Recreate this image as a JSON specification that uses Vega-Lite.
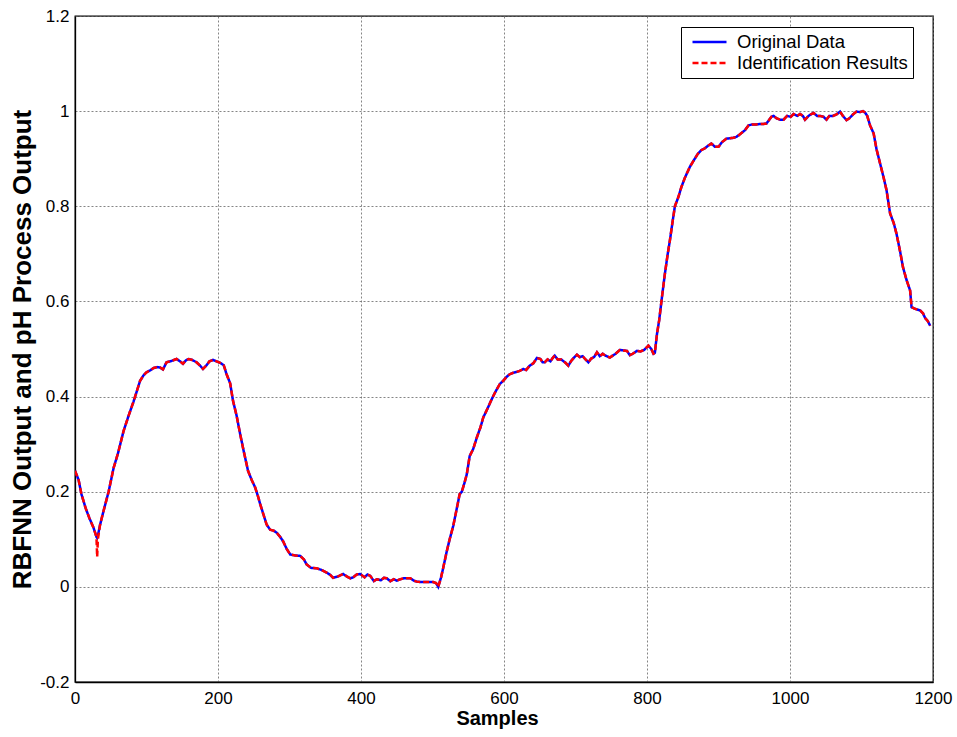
{
  "$schema": "https://vega.github.io/schema/vega-lite/v6.json",
  "width": 858,
  "height": 666,
  "autosize": {"type": "none"},
  "padding": {"left": 75, "top": 16, "right": 24, "bottom": 55},
  "background": "white",
  "config": {
    "font": "Liberation Sans",
    "view": {"stroke": "black", "strokeWidth": 1.3},
    "axis": {
      "labelFont": "Liberation Sans",
      "labelFontSize": 17,
      "labelColor": "black",
      "labelFlush": false,
      "titleFont": "Liberation Sans",
      "titleFontSize": 20,
      "titleFontWeight": "bold",
      "titleColor": "black",
      "domainColor": "black",
      "domainWidth": 1.3,
      "ticks": false,
      "grid": true,
      "gridColor": "#666666",
      "gridDash": [2, 2],
      "gridWidth": 0.8
    },
    "legend": {
      "labelFont": "Liberation Sans",
      "labelFontSize": 18.5,
      "labelColor": "black",
      "labelLimit": 400
    }
  },
  "data": {
    "values": [
      {"x":0,"o":0.244,"i":0.244},{"x":5,"o":0.225,"i":0.225},{"x":9,"o":0.195,"i":0.195},{"x":15,"o":0.165,"i":0.165},{"x":20,"o":0.145,"i":0.145},{"x":26,"o":0.124,"i":0.124},{"x":30,"o":0.105,"i":0.105},{"x":31,"o":0.103,"i":0.063},{"x":32,"o":0.108,"i":0.1},{"x":35,"o":0.13,"i":0.13},{"x":40,"o":0.16,"i":0.16},{"x":47,"o":0.2,"i":0.2},{"x":54,"o":0.25,"i":0.25},{"x":60,"o":0.28,"i":0.28},{"x":68,"o":0.328,"i":0.328},{"x":75,"o":0.36,"i":0.36},{"x":82,"o":0.39,"i":0.39},{"x":91,"o":0.433,"i":0.433},{"x":96,"o":0.445,"i":0.445},{"x":100,"o":0.451,"i":0.451},{"x":105,"o":0.455,"i":0.455},{"x":110,"o":0.46,"i":0.46},{"x":115,"o":0.462,"i":0.462},{"x":119,"o":0.461,"i":0.461},{"x":123,"o":0.457,"i":0.457},{"x":128,"o":0.472,"i":0.472},{"x":135,"o":0.475,"i":0.475},{"x":142,"o":0.479,"i":0.479},{"x":147,"o":0.474,"i":0.474},{"x":151,"o":0.469,"i":0.469},{"x":155,"o":0.476,"i":0.476},{"x":159,"o":0.479,"i":0.479},{"x":164,"o":0.477,"i":0.477},{"x":170,"o":0.472,"i":0.472},{"x":175,"o":0.465,"i":0.465},{"x":179,"o":0.458,"i":0.458},{"x":184,"o":0.466,"i":0.466},{"x":188,"o":0.474,"i":0.474},{"x":193,"o":0.477,"i":0.477},{"x":198,"o":0.474,"i":0.474},{"x":203,"o":0.471,"i":0.471},{"x":208,"o":0.466,"i":0.466},{"x":212,"o":0.447,"i":0.447},{"x":217,"o":0.428,"i":0.428},{"x":221,"o":0.391,"i":0.391},{"x":226,"o":0.36,"i":0.36},{"x":231,"o":0.321,"i":0.321},{"x":236,"o":0.285,"i":0.285},{"x":242,"o":0.244,"i":0.244},{"x":247,"o":0.225,"i":0.225},{"x":252,"o":0.209,"i":0.209},{"x":256,"o":0.19,"i":0.19},{"x":259,"o":0.174,"i":0.174},{"x":264,"o":0.15,"i":0.15},{"x":268,"o":0.131,"i":0.131},{"x":273,"o":0.12,"i":0.12},{"x":278,"o":0.118,"i":0.118},{"x":282,"o":0.114,"i":0.114},{"x":287,"o":0.105,"i":0.105},{"x":291,"o":0.096,"i":0.096},{"x":296,"o":0.08,"i":0.08},{"x":301,"o":0.068,"i":0.068},{"x":308,"o":0.066,"i":0.066},{"x":315,"o":0.065,"i":0.065},{"x":320,"o":0.058,"i":0.058},{"x":324,"o":0.047,"i":0.047},{"x":330,"o":0.04,"i":0.04},{"x":338,"o":0.039,"i":0.039},{"x":344,"o":0.036,"i":0.036},{"x":352,"o":0.03,"i":0.03},{"x":357,"o":0.025,"i":0.025},{"x":361,"o":0.019,"i":0.019},{"x":368,"o":0.022,"i":0.022},{"x":375,"o":0.027,"i":0.027},{"x":380,"o":0.022,"i":0.022},{"x":385,"o":0.018,"i":0.018},{"x":389,"o":0.02,"i":0.02},{"x":394,"o":0.026,"i":0.026},{"x":399,"o":0.027,"i":0.027},{"x":405,"o":0.02,"i":0.02},{"x":409,"o":0.026,"i":0.026},{"x":413,"o":0.023,"i":0.023},{"x":418,"o":0.012,"i":0.012},{"x":422,"o":0.016,"i":0.016},{"x":428,"o":0.014,"i":0.014},{"x":432,"o":0.019,"i":0.019},{"x":436,"o":0.018,"i":0.018},{"x":441,"o":0.012,"i":0.012},{"x":446,"o":0.016,"i":0.016},{"x":450,"o":0.013,"i":0.013},{"x":455,"o":0.016,"i":0.016},{"x":460,"o":0.018,"i":0.018},{"x":465,"o":0.018,"i":0.018},{"x":469,"o":0.018,"i":0.018},{"x":474,"o":0.013,"i":0.013},{"x":478,"o":0.011,"i":0.011},{"x":485,"o":0.01,"i":0.01},{"x":493,"o":0.01,"i":0.01},{"x":501,"o":0.01,"i":0.01},{"x":505,"o":0.008,"i":0.008},{"x":508,"o":0.0,"i":0.0},{"x":512,"o":0.02,"i":0.02},{"x":515,"o":0.04,"i":0.04},{"x":520,"o":0.075,"i":0.075},{"x":524,"o":0.1,"i":0.1},{"x":529,"o":0.128,"i":0.128},{"x":534,"o":0.165,"i":0.165},{"x":538,"o":0.195,"i":0.195},{"x":541,"o":0.2,"i":0.2},{"x":545,"o":0.22,"i":0.22},{"x":548,"o":0.237,"i":0.237},{"x":552,"o":0.275,"i":0.275},{"x":557,"o":0.29,"i":0.29},{"x":562,"o":0.314,"i":0.314},{"x":567,"o":0.335,"i":0.335},{"x":571,"o":0.356,"i":0.356},{"x":577,"o":0.375,"i":0.375},{"x":583,"o":0.395,"i":0.395},{"x":588,"o":0.41,"i":0.41},{"x":594,"o":0.426,"i":0.426},{"x":600,"o":0.435,"i":0.435},{"x":604,"o":0.442,"i":0.442},{"x":608,"o":0.447,"i":0.447},{"x":613,"o":0.45,"i":0.45},{"x":618,"o":0.452,"i":0.452},{"x":622,"o":0.454,"i":0.454},{"x":627,"o":0.458,"i":0.458},{"x":631,"o":0.456,"i":0.456},{"x":636,"o":0.465,"i":0.465},{"x":641,"o":0.47,"i":0.47},{"x":646,"o":0.481,"i":0.481},{"x":651,"o":0.479,"i":0.479},{"x":654,"o":0.472,"i":0.472},{"x":657,"o":0.472,"i":0.472},{"x":661,"o":0.478,"i":0.478},{"x":665,"o":0.474,"i":0.474},{"x":668,"o":0.481,"i":0.481},{"x":671,"o":0.486,"i":0.486},{"x":675,"o":0.478,"i":0.478},{"x":680,"o":0.478,"i":0.478},{"x":686,"o":0.471,"i":0.471},{"x":690,"o":0.465,"i":0.465},{"x":694,"o":0.475,"i":0.475},{"x":698,"o":0.482,"i":0.482},{"x":702,"o":0.488,"i":0.488},{"x":706,"o":0.483,"i":0.483},{"x":710,"o":0.485,"i":0.485},{"x":714,"o":0.478,"i":0.478},{"x":718,"o":0.472,"i":0.472},{"x":722,"o":0.48,"i":0.48},{"x":726,"o":0.483,"i":0.483},{"x":730,"o":0.493,"i":0.493},{"x":734,"o":0.485,"i":0.485},{"x":738,"o":0.49,"i":0.49},{"x":742,"o":0.486,"i":0.486},{"x":748,"o":0.482,"i":0.482},{"x":752,"o":0.486,"i":0.486},{"x":756,"o":0.49,"i":0.49},{"x":762,"o":0.498,"i":0.498},{"x":767,"o":0.497,"i":0.497},{"x":772,"o":0.496,"i":0.496},{"x":776,"o":0.487,"i":0.487},{"x":780,"o":0.49,"i":0.49},{"x":786,"o":0.496,"i":0.496},{"x":791,"o":0.495,"i":0.495},{"x":796,"o":0.498,"i":0.498},{"x":802,"o":0.507,"i":0.507},{"x":806,"o":0.5,"i":0.5},{"x":809,"o":0.49,"i":0.49},{"x":811,"o":0.492,"i":0.492},{"x":814,"o":0.532,"i":0.532},{"x":817,"o":0.56,"i":0.56},{"x":821,"o":0.61,"i":0.61},{"x":825,"o":0.658,"i":0.658},{"x":829,"o":0.7,"i":0.7},{"x":832,"o":0.728,"i":0.728},{"x":836,"o":0.77,"i":0.77},{"x":839,"o":0.8,"i":0.8},{"x":844,"o":0.82,"i":0.82},{"x":848,"o":0.84,"i":0.84},{"x":853,"o":0.86,"i":0.86},{"x":860,"o":0.883,"i":0.883},{"x":866,"o":0.898,"i":0.898},{"x":871,"o":0.91,"i":0.91},{"x":876,"o":0.918,"i":0.918},{"x":881,"o":0.922,"i":0.922},{"x":886,"o":0.928,"i":0.928},{"x":890,"o":0.932,"i":0.932},{"x":895,"o":0.925,"i":0.925},{"x":900,"o":0.925,"i":0.925},{"x":905,"o":0.935,"i":0.935},{"x":911,"o":0.942,"i":0.942},{"x":916,"o":0.943,"i":0.943},{"x":921,"o":0.944,"i":0.944},{"x":925,"o":0.946,"i":0.946},{"x":928,"o":0.949,"i":0.949},{"x":933,"o":0.955,"i":0.955},{"x":937,"o":0.96,"i":0.96},{"x":942,"o":0.97,"i":0.97},{"x":947,"o":0.972,"i":0.972},{"x":952,"o":0.972,"i":0.972},{"x":958,"o":0.973,"i":0.973},{"x":963,"o":0.973,"i":0.973},{"x":967,"o":0.974,"i":0.974},{"x":971,"o":0.982,"i":0.982},{"x":974,"o":0.988,"i":0.988},{"x":977,"o":0.99,"i":0.99},{"x":981,"o":0.985,"i":0.985},{"x":986,"o":0.982,"i":0.982},{"x":991,"o":0.982,"i":0.982},{"x":996,"o":0.99,"i":0.99},{"x":1001,"o":0.988,"i":0.988},{"x":1005,"o":0.994,"i":0.994},{"x":1010,"o":0.99,"i":0.99},{"x":1014,"o":0.994,"i":0.994},{"x":1018,"o":0.99,"i":0.99},{"x":1021,"o":0.982,"i":0.982},{"x":1026,"o":0.99,"i":0.99},{"x":1030,"o":0.994,"i":0.994},{"x":1033,"o":0.996,"i":0.996},{"x":1038,"o":0.99,"i":0.99},{"x":1042,"o":0.99,"i":0.99},{"x":1047,"o":0.988,"i":0.988},{"x":1051,"o":0.982,"i":0.982},{"x":1055,"o":0.99,"i":0.99},{"x":1060,"o":0.99,"i":0.99},{"x":1065,"o":0.993,"i":0.993},{"x":1070,"o":0.999,"i":0.999},{"x":1074,"o":0.99,"i":0.99},{"x":1079,"o":0.981,"i":0.981},{"x":1083,"o":0.985,"i":0.985},{"x":1088,"o":0.993,"i":0.993},{"x":1093,"o":0.999,"i":0.999},{"x":1098,"o":0.998,"i":0.998},{"x":1102,"o":1.0,"i":1.0},{"x":1105,"o":0.997,"i":0.997},{"x":1108,"o":0.99,"i":0.99},{"x":1112,"o":0.97,"i":0.97},{"x":1117,"o":0.953,"i":0.953},{"x":1121,"o":0.92,"i":0.92},{"x":1126,"o":0.89,"i":0.89},{"x":1131,"o":0.86,"i":0.86},{"x":1135,"o":0.834,"i":0.834},{"x":1140,"o":0.785,"i":0.785},{"x":1145,"o":0.765,"i":0.765},{"x":1149,"o":0.742,"i":0.742},{"x":1154,"o":0.705,"i":0.705},{"x":1158,"o":0.672,"i":0.672},{"x":1163,"o":0.645,"i":0.645},{"x":1168,"o":0.623,"i":0.623},{"x":1170,"o":0.588,"i":0.588},{"x":1174,"o":0.585,"i":0.585},{"x":1178,"o":0.583,"i":0.583},{"x":1182,"o":0.581,"i":0.581},{"x":1186,"o":0.575,"i":0.575},{"x":1189,"o":0.565,"i":0.565},{"x":1192,"o":0.56,"i":0.56},{"x":1194,"o":0.555,"i":0.555},{"x":1196,"o":0.549,"i":0.549}
    ]
  },
  "transform": [{"fold": ["o", "i"], "as": ["key", "value"]}],
  "encoding": {
    "x": {
      "field": "x", "type": "quantitative",
      "scale": {"domain": [0, 1200], "nice": false, "zero": false},
      "axis": {"values": [0, 200, 400, 600, 800, 1000, 1200], "title": "Samples", "labelPadding": 8, "titlePadding": 2, "titleX": 422, "format": "d"}
    },
    "y": {
      "field": "value", "type": "quantitative",
      "scale": {"domain": [-0.2, 1.2], "nice": false, "zero": false},
      "axis": {"values": [-0.2, 0, 0.2, 0.4, 0.6, 0.8, 1, 1.2], "title": "RBFNN Output and pH Process Output", "titleFontSize": 26, "labelPadding": 6, "titlePadding": 4, "format": ".1~f", "labelExpr": "replace(datum.label, '\u2212', '-')"}
    },
    "color": {
      "field": "key", "type": "nominal",
      "scale": {"domain": ["o", "i"], "range": ["#0000ff", "#ff0000"]},
      "legend": {
        "title": null, "orient": "none", "legendX": 606, "legendY": 11,
        "symbolType": "M-1,0H3", "symbolSize": 289, "symbolStrokeWidth": 2.5, "symbolOffset": 5, "labelOffset": 26, "labelLimit": 400,
        "strokeColor": "black", "fillColor": "white", "padding": 5, "rowPadding": 1,
        "labelExpr": "datum.value == 'o' ? 'Original Data' : 'Identification Results'"
      }
    },
    "strokeDash": {
      "field": "key", "type": "nominal",
      "scale": {"domain": ["o", "i"], "range": [[1, 0], [6, 3]]},
      "legend": {
        "title": null, "orient": "none", "legendX": 606, "legendY": 11,
        "symbolType": "M-1,0H3", "symbolSize": 289, "symbolStrokeWidth": 2.5, "symbolOffset": 5, "labelOffset": 26, "labelLimit": 400,
        "strokeColor": "black", "fillColor": "white", "padding": 5, "rowPadding": 1,
        "labelExpr": "datum.value == 'o' ? 'Original Data' : 'Identification Results'"
      }
    }
  },
  "layer": [
    {"transform": [{"filter": "datum.key == 'o'"}], "mark": {"type": "line", "strokeWidth": 2.5, "clip": true}},
    {"transform": [{"filter": "datum.key == 'i'"}], "mark": {"type": "line", "strokeWidth": 2.5, "clip": true}}
  ]
}
